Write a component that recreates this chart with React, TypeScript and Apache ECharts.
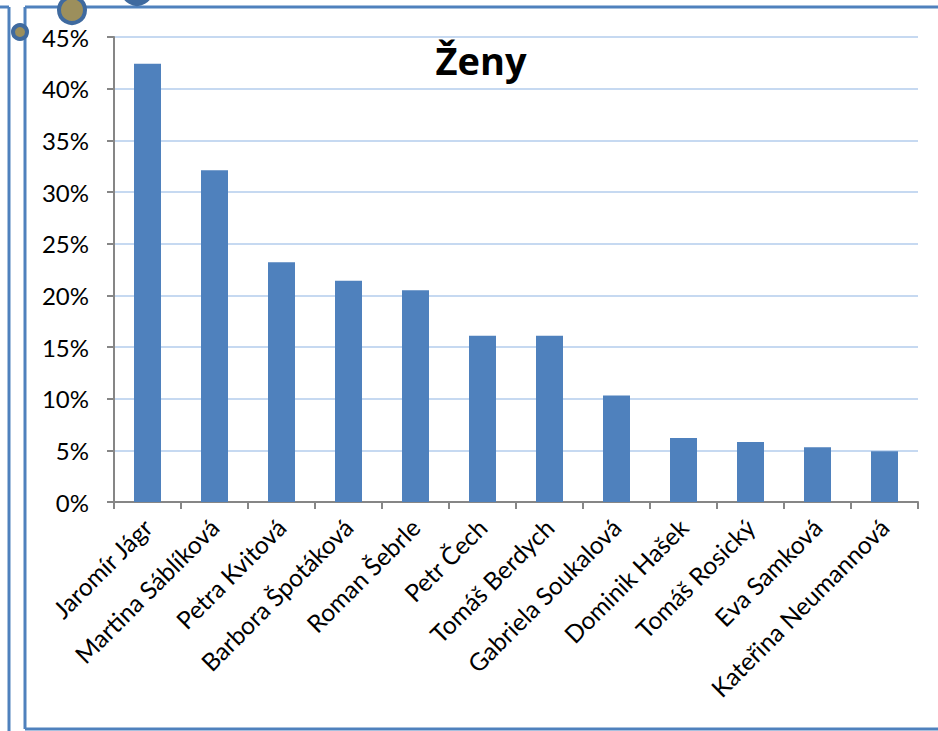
import React, { useEffect, useRef } from "react";
import * as echarts from "echarts";

const categories = [
  "Jaromír Jágr",
  "Martina Sáblíková",
  "Petra Kvitová",
  "Barbora Špotáková",
  "Roman Šebrle",
  "Petr Čech",
  "Tomáš Berdych",
  "Gabriela Soukalová",
  "Dominik Hašek",
  "Tomáš Rosický",
  "Eva Samková",
  "Kateřina Neumannová",
];
const values = [42.4, 32.1, 23.2, 21.4, 20.5, 16.1, 16.1, 10.3, 6.2, 5.8, 5.3, 4.9];
const titleText = "Ženy";

export default function App() {
  const ref = useRef<HTMLDivElement>(null);
  useEffect(() => {
    if (!ref.current) return;
    const chart = echarts.init(ref.current, null, { renderer: "svg" });
    const frame = "#4f81bd";
    chart.setOption({
      animation: false,
      backgroundColor: "#ffffff",
      textStyle: { fontFamily: "Lato, 'Open Sans', sans-serif" },
      title: {
        text: titleText,
        left: 476,
        textAlign: "center",
        top: 36,
        textStyle: { fontSize: 38, fontWeight: "bold", color: "#000", fontFamily: "'Open Sans', Lato, sans-serif" },
      },
      grid: { left: 114, right: 20, top: 37, bottom: 229, containLabel: false },
      xAxis: {
        type: "category",
        data: categories,
        axisLine: { lineStyle: { color: "#868686", width: 2 } },
        axisTick: { show: true, length: 7, lineStyle: { color: "#868686", width: 2 } },
        axisLabel: { rotate: 45, fontSize: 24.5, color: "#000", margin: 21, interval: 0 },
      },
      yAxis: {
        type: "value",
        min: 0,
        max: 45,
        interval: 5,
        axisLine: { show: true, lineStyle: { color: "#868686", width: 2 } },
        axisTick: { show: true, length: 7, lineStyle: { color: "#868686", width: 2 } },
        axisLabel: { formatter: "{value}%", fontSize: 24, color: "#000", margin: 25 },
        splitLine: { lineStyle: { color: "#c6d9f1", width: 2 } },
      },
      series: [
        {
          type: "bar",
          data: values,
          barWidth: 27,
          itemStyle: { color: "#4f81bd" },
        },
      ],
      graphic: [
        { type: "line", shape: { x1: 9, y1: 7, x2: 9, y2: 731 }, style: { stroke: frame, lineWidth: 3 } },
        { type: "line", shape: { x1: 0, y1: 7, x2: 9, y2: 7 }, style: { stroke: frame, lineWidth: 3 } },
        { type: "line", shape: { x1: 25, y1: 7, x2: 938, y2: 7 }, style: { stroke: frame, lineWidth: 3 } },
        { type: "line", shape: { x1: 25, y1: 7, x2: 25, y2: 729 }, style: { stroke: frame, lineWidth: 3 } },
        { type: "line", shape: { x1: 25, y1: 729, x2: 938, y2: 729 }, style: { stroke: frame, lineWidth: 3 } },
        { type: "circle", shape: { cx: 72, cy: 10, r: 13 }, style: { fill: "#9c8f5c", stroke: "#3f6a9f", lineWidth: 4 } },
        { type: "circle", shape: { cx: 20, cy: 32, r: 7 }, style: { fill: "#9c8f5c", stroke: "#3f6a9f", lineWidth: 4 } },
        { type: "circle", shape: { cx: 137, cy: -10, r: 15 }, style: { fill: "#3f6a9f", stroke: "#3f6a9f", lineWidth: 2 } },
      ],
    });
    return () => chart.dispose();
  }, []);
  return <div ref={ref} style={{ width: 938, height: 731, position: "absolute", left: 0, top: 0 }} />;
}
